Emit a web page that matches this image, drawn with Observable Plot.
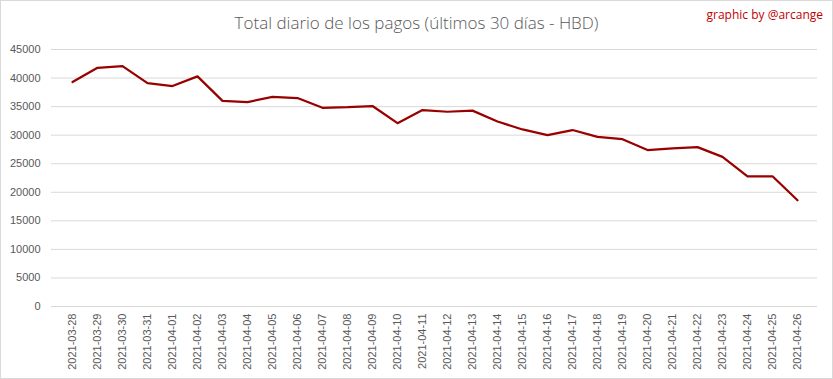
<!DOCTYPE html>
<html>
<head>
<meta charset="utf-8">
<script src="https://cdn.jsdelivr.net/npm/d3@7"></script>
<script src="https://cdn.jsdelivr.net/npm/@observablehq/plot@0.6"></script>
<style>
  html, body { margin: 0; padding: 0; background: #fff; }
  #wrap { position: relative; width: 831px; height: 377px; border: 1px solid #d9d9d9; background: #fff; overflow: hidden; }
  #title { height: 40px; line-height: 44px; text-align: center; font-family: "Open Sans", sans-serif; font-weight: 300; font-size: 17px; color: #595959; }
  #credit { position: absolute; top: 5px; right: 9px; font-family: "Open Sans", sans-serif; font-size: 12px; color: #c00000; }
  svg { display: block; }
</style>
</head>
<body>
<div id="wrap">
  <div id="title">Total diario de los pagos (últimos 30 días - HBD)</div>
  <div id="credit">graphic by @arcange</div>
  <div id="chart"></div>
</div>
<script>
const dates = [
  "2021-03-28","2021-03-29","2021-03-30","2021-03-31","2021-04-01","2021-04-02",
  "2021-04-03","2021-04-04","2021-04-05","2021-04-06","2021-04-07","2021-04-08",
  "2021-04-09","2021-04-10","2021-04-11","2021-04-12","2021-04-13","2021-04-14",
  "2021-04-15","2021-04-16","2021-04-17","2021-04-18","2021-04-19","2021-04-20",
  "2021-04-21","2021-04-22","2021-04-23","2021-04-24","2021-04-25","2021-04-26"
];
const totals = [
  39300, 41800, 42100, 39100, 38600, 40300,
  36000, 35800, 36700, 36500, 34800, 34900,
  35100, 32100, 34400, 34100, 34300, 32400,
  31000, 30000, 30900, 29700, 29300, 27400,
  27700, 27900, 26200, 22800, 22800, 18600
];
const yTicks = [0, 5000, 10000, 15000, 20000, 25000, 30000, 35000, 40000, 45000];

const data = dates.map((d, i) => ({date: d, value: totals[i]}));

const chart = Plot.plot({
  width: 831,
  height: 337,
  marginTop: 8,
  marginBottom: 72,
  marginLeft: 50,
  marginRight: 15,
  style: {fontFamily: "'Liberation Sans', Arial, sans-serif", fontSize: "11px", color: "#595959", background: "#fff"},
  x: {type: "point", domain: dates, padding: 0.5},
  y: {domain: [0, 45000]},
  marks: [
    Plot.gridY(yTicks, {stroke: "#d9d9d9", strokeOpacity: 1}),
    Plot.axisY(yTicks, {tickSize: 0, tickPadding: 11, tickFormat: d3.format("d"), label: null, fill: "#595959", fontSize: 11}),
    Plot.axisX({tickSize: 0, tickPadding: 7, tickRotate: -90, label: null, fill: "#595959", fontSize: 11}),
    Plot.line(data, {x: "date", y: "value", stroke: "#990000", strokeWidth: 2.25, strokeLinejoin: "round"})
  ]
});
document.getElementById("chart").appendChild(chart);
</script>
</body>
</html>
